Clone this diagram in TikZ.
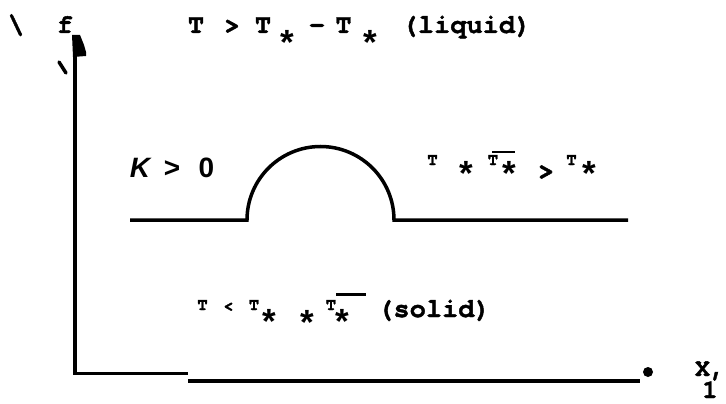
\documentclass[tikz,border=0pt]{standalone}
\usepackage{fontspec}
\newfontfamily\cour{TeX Gyre Cursor}[BoldFeatures={FakeBold=1.5}]
\newfontfamily\arial{Liberation Sans}
\begin{document}
\begin{tikzpicture}[x=1pt,y=-1pt,
  tt/.style={font=\cour\bfseries\fontsize{27}{27}\selectfont, inner sep=0pt, anchor=base},
  ttbig/.style={font=\cour\bfseries\fontsize{28}{28}\selectfont, inner sep=0pt, anchor=base},
  sm/.style={font=\cour\bfseries\fontsize{17}{17}\selectfont, inner sep=0pt, anchor=base},
  st/.style={font=\arial\bfseries\fontsize{35}{35}\selectfont, inner sep=0pt, anchor=base},
  sf/.style={font=\arial\bfseries\fontsize{28}{28}\selectfont, inner sep=0pt, anchor=base},
  thick4/.style={line width=4pt},
  thick3/.style={line width=3pt}]
\useasboundingbox (0,0) rectangle (726,404);
% axes
\coordinate (ytop) at (75,40);
\coordinate (org) at (75,373);
\coordinate (b1) at (188,373);
\coordinate (b2) at (188,381);
\coordinate (b3) at (640,381);
\draw[thick4] (ytop) -- (org);
\draw[thick3] (73,373) -- (b1);
\draw[thick4] (b2) -- (b3);
\node[circle, fill, inner sep=0pt, minimum size=10pt] (dot) at (648,372) {};
\fill (72,35) -- (80,35) -- (84,45) -- (86,52) -- (86,56) -- (73,57) -- cycle;
\draw[line width=3.5pt, line cap=round] (59,62) -- (66,73);
% interface curve
\coordinate (m0) at (130,220);
\coordinate (m1) at (247,220);
\coordinate (m3) at (628,220);
\draw[line width=3.5pt] (m0) -- (m1) arc[start angle=180, end angle=360, radius=73.5] -- (m3);
% top labels
\node[tt] (bs) at (16,33) {\textbackslash};
\node[tt] (f) at (65,33) {f};
\node[tt] (t1) at (196,33) {T};
\node[tt] (gt1) at (232,33) {>};
\node[tt] (t2) at (263,33) {T};
\node[st] (s1) at (287.5,55) {*};
\node[tt] (mi) at (317,33) {-};
\node[tt] (t3) at (343.5,33) {T};
\node[st] (s2) at (370,55) {*};
\node[tt] (liq) at (466.5,33) {(liquid)};
% middle labels
\node[sf] (k) at (140,177) {\itshape K};
\node[sf] (gt2) at (172,177) {>};
\node[sf] (zero) at (206.5,177) {0};
\node[sm] (t4) at (432.5,165) {T};
\node[st] (s3) at (466,185) {*};
\node[sm] (t5) at (493,165) {T};
\node[st] (s4) at (509,185) {*};
\draw[line width=2.5pt] (492,152) -- (515,152);
\node[ttbig] (gt3) at (546,179) {>};
\node[sm] (t6) at (571.5,165) {T};
\node[st] (s5) at (589,185) {*};
% bottom labels
\node[sm] (t7) at (202.5,310) {T};
\node[sm] (lt) at (228.5,311) {<};
\node[sm] (t8) at (254,310) {T};
\node[st] (s6) at (269,333) {*};
\node[st] (s7) at (307,334) {*};
\node[sm] (t9) at (331,310) {T};
\node[st] (s8) at (342.5,333) {*};
\draw[line width=3pt] (336,294) -- (366,294);
\node[tt] (sol) at (434,317) {(solid)};
% axis label
\node[font=\cour\bfseries\fontsize{25}{25}\selectfont, inner sep=0pt, anchor=base] (xl) at (710,376) {X,};
\node[font=\cour\bfseries\fontsize{26}{26}\selectfont, inner sep=0pt, anchor=base] (one) at (710,398) {1};
\end{tikzpicture}
\end{document}
